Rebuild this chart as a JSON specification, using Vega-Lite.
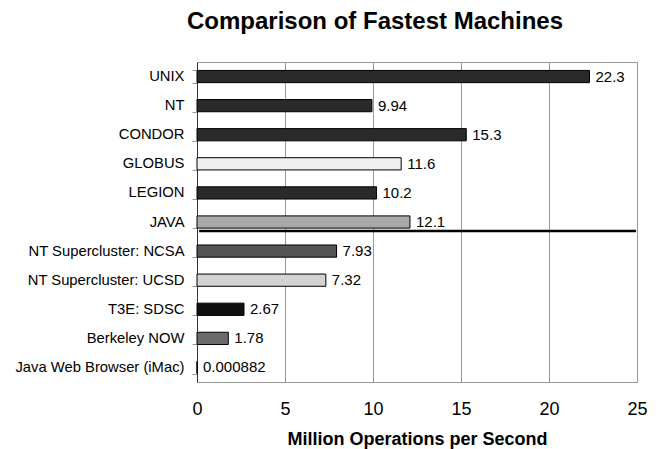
{
  "$schema": "https://vega.github.io/schema/vega-lite/v6.json",
  "width": 440,
  "height": 320,
  "autosize": "none",
  "padding": {"left": 197, "top": 62, "right": 21, "bottom": 67},
  "background": "white",
  "config": {
    "font": "Liberation Sans",
    "view": {"stroke": "#999999", "strokeWidth": 1}
  },
  "title": {
    "text": "Comparison of Fastest Machines",
    "font": "Liberation Sans",
    "fontSize": 24,
    "fontWeight": "bold",
    "color": "black",
    "anchor": "middle",
    "frame": "group",
    "dx": -42,
    "offset": 20
  },
  "data": {
    "values": [
      {"machine": "UNIX", "mops": 22.3, "label": "22.3", "shade": "a"},
      {"machine": "NT", "mops": 9.94, "label": "9.94", "shade": "a"},
      {"machine": "CONDOR", "mops": 15.3, "label": "15.3", "shade": "a"},
      {"machine": "GLOBUS", "mops": 11.6, "label": "11.6", "shade": "b"},
      {"machine": "LEGION", "mops": 10.2, "label": "10.2", "shade": "a"},
      {"machine": "JAVA", "mops": 12.1, "label": "12.1", "shade": "c"},
      {"machine": "NT Supercluster: NCSA", "mops": 7.93, "label": "7.93", "shade": "d"},
      {"machine": "NT Supercluster: UCSD", "mops": 7.32, "label": "7.32", "shade": "e"},
      {"machine": "T3E: SDSC", "mops": 2.67, "label": "2.67", "shade": "f"},
      {"machine": "Berkeley NOW", "mops": 1.78, "label": "1.78", "shade": "g"},
      {"machine": "Java Web Browser (iMac)", "mops": 0.000882, "label": "0.000882", "shade": "h"}
    ]
  },
  "encoding": {
    "y": {
      "field": "machine",
      "type": "nominal",
      "sort": null,
      "scale": {"paddingInner": 0.58, "paddingOuter": 0.29},
      "axis": {
        "title": null,
        "labelFont": "Liberation Sans",
        "labelFontSize": 14.8,
        "labelColor": "black",
        "labelPadding": 8,
        "tickBand": "extent",
        "tickColor": "#999999",
        "tickSize": 5,
        "domainColor": "#333333",
        "grid": false
      }
    }
  },
  "layer": [
    {
      "mark": {"type": "bar", "stroke": "black", "strokeWidth": 1},
      "encoding": {
        "x": {
          "field": "mops",
          "type": "quantitative",
          "scale": {"domain": [0, 25], "nice": false},
          "axis": {
            "title": "Million Operations per Second",
            "titleFont": "Liberation Sans",
            "titleFontSize": 18,
            "titleFontWeight": "bold",
            "titleColor": "black",
            "titlePadding": 12,
            "values": [0, 5, 10, 15, 20, 25],
            "labelFont": "Liberation Sans",
            "labelFontSize": 18,
            "labelColor": "black",
            "labelPadding": 18,
            "labelFlush": false,
            "ticks": false,
            "domain": false,
            "grid": true,
            "gridColor": "#999999",
            "gridWidth": 1
          }
        },
        "fill": {
          "field": "shade",
          "type": "nominal",
          "scale": {
            "domain": ["a", "b", "c", "d", "e", "f", "g", "h"],
            "range": ["#2a2a2a", "#f0f0f0", "#a9a9a9", "#555555", "#d3d3d3", "#111111", "#6b6b6b", "#ffffff"]
          },
          "legend": null
        }
      }
    },
    {
      "mark": {"type": "text", "align": "left", "baseline": "middle", "dx": 6, "fontSize": 15, "font": "Liberation Sans", "color": "black"},
      "encoding": {
        "x": {"field": "mops", "type": "quantitative"},
        "text": {"field": "label", "type": "nominal"}
      }
    },
    {
      "data": {"values": [{"machine": "JAVA", "x0": 0.12, "x1": 24.95}]},
      "mark": {"type": "rule", "color": "black", "strokeWidth": 2.5, "yOffset": 9},
      "encoding": {
        "y": {"field": "machine", "type": "nominal"},
        "x": {"field": "x0", "type": "quantitative"},
        "x2": {"field": "x1"}
      }
    }
  ]
}
